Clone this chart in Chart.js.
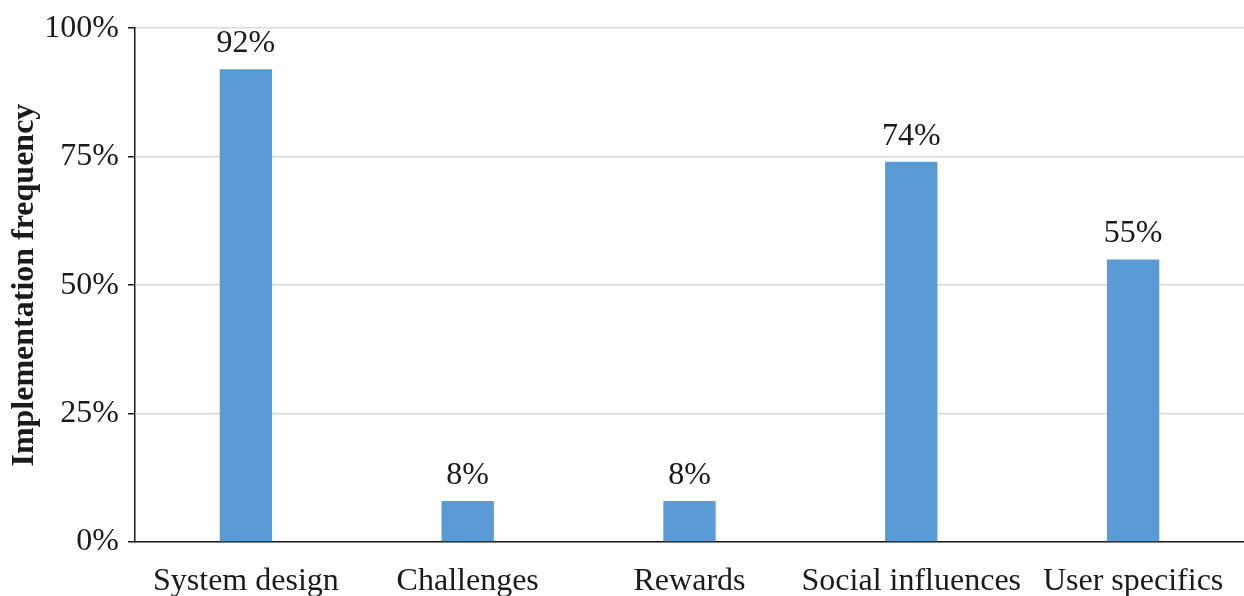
<!DOCTYPE html>
<html lang="en">
<head>
	<meta charset="UTF-8" />
	<title>Implementation frequency</title>
	<script src="https://cdn.jsdelivr.net/npm/chart.js@4.4.1/dist/chart.umd.min.js"></script>
	<style>
		html, body { margin: 0; padding: 0; background: #fff; }
		#wrap { position: relative; width: 1244px; height: 596px; }
	</style>
</head>
<body>
	<div id="wrap">
		<canvas id="myChart" width="1244" height="596"></canvas>
	</div>
<script>
	// values
	const categories = ["System design", "Challenges", "Rewards", "Social influences", "User specifics"];
	const frequency = [92, 8, 8, 74, 55];
	const yTicks = [0, 25, 50, 75, 100];

	const serif = "'Liberation Serif', 'Times New Roman', serif";
	const ink = '#1a1a1a';

	// percent labels over each bar
	const barLabels = {
		id: 'barLabels',
		afterDatasetsDraw(chart) {
			const ctx = chart.ctx;
			const meta = chart.getDatasetMeta(0);
			ctx.save();
			ctx.font = '32px ' + serif;
			ctx.fillStyle = ink;
			ctx.textAlign = 'center';
			ctx.textBaseline = 'alphabetic';
			meta.data.forEach((bar, i) => {
				ctx.fillText(frequency[i] + '%', bar.x, bar.y - 17);
			});
			ctx.restore();
		}
	};

	const ctx = document.getElementById('myChart').getContext('2d');
	const chart = new Chart(ctx, {
		type: 'bar',
		data: {
			labels: categories,
			datasets: [{
				label: 'Implementation frequency',
				data: frequency,
				backgroundColor: '#5b9bd5',
				borderWidth: 0,
				categoryPercentage: 1,
				barPercentage: 0.236
			}]
		},
		options: {
			responsive: false,
			animation: false,
			layout: { padding: { top: 25, right: 0, left: 0, bottom: 0 } },
			plugins: {
				legend: { display: false },
				tooltip: { enabled: false }
			},
			scales: {
				x: {
					grid: { display: false, drawTicks: false },
					border: { display: true, color: ink, width: 1.5 },
					ticks: {
						color: ink,
						font: { family: serif, size: 32 },
						padding: 20,
						maxRotation: 0,
						autoSkip: false
					},
					afterFit(scale) { scale.height = 54; }
				},
				y: {
					min: 0,
					max: 100,
					afterBuildTicks(scale) { scale.ticks = yTicks.map(v => ({ value: v })); },
					grid: {
						color: '#d9d9d9',
						lineWidth: 1.5,
						tickColor: ink,
						tickLength: 7
					},
					border: { display: true, color: ink, width: 1.5 },
					ticks: {
						color: ink,
						font: { family: serif, size: 32 },
						padding: 9,
						callback: v => v + '%'
					},
					title: {
						display: true,
						text: 'Implementation frequency',
						color: ink,
						font: { family: serif, size: 32, weight: 'bold' },
						padding: { top: 6, bottom: 0 }
					},
					afterFit(scale) { scale.width = 135; }
				}
			}
		},
		plugins: [barLabels]
	});
</script>
</body>
</html>
